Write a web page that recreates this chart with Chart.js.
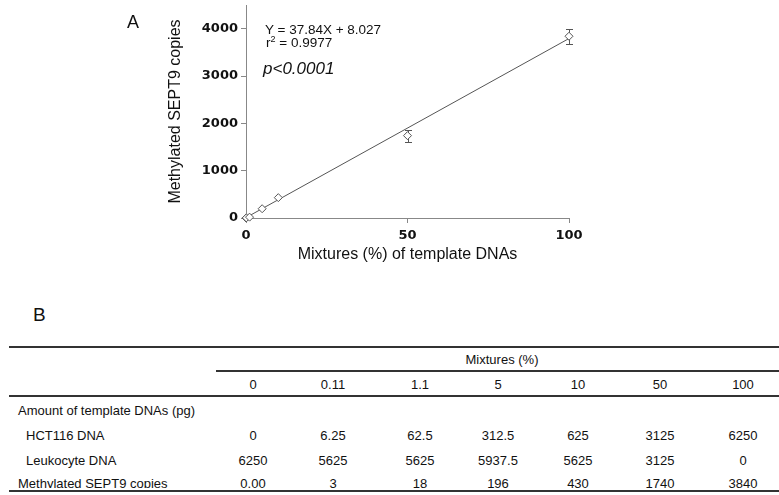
<!DOCTYPE html>
<html>
<head>
<meta charset="utf-8">
<script src="https://cdn.jsdelivr.net/npm/chart.js@4.4.0/dist/chart.umd.min.js"></script>
<style>
body { margin: 0; background: #fff; font-family: Arial, "Liberation Sans", sans-serif; color: #111; }
#wrap { position: relative; width: 779px; height: 495px; overflow: hidden; }
.t { position: absolute; white-space: nowrap; }
.cell { position: absolute; width: 80px; text-align: center; font-size: 13px; line-height: 13px; white-space: nowrap; }
.row { position: absolute; font-size: 13px; line-height: 13px; white-space: nowrap; }
.hl { position: absolute; background: #333; }
</style>
</head>
<body>
<div id="wrap">
  <canvas id="c" width="779" height="275" style="position:absolute;left:0;top:0"></canvas>

  <div class="t" style="left:127px;top:13px;font-size:18px;line-height:18px">A</div>
  <div class="t" style="left:265px;top:23px;font-size:13.5px;line-height:13.5px">Y = 37.84X + 8.027</div>
  <div class="t" style="left:266px;top:36px;font-size:13.5px;line-height:13.5px">r<sup style="font-size:9px;vertical-align:5px;line-height:0">2</sup> = 0.9977</div>
  <div class="t" style="left:263px;top:60px;font-size:17px;line-height:17px;font-style:italic">p&lt;0.0001</div>

  <div class="t" style="left:33px;top:305px;font-size:19px;line-height:19px">B</div>

  <div id="table"></div>
</div>

<script>
// panel A / table values
const mixtures = [0, 0.11, 1.1, 5, 10, 50, 100];
const mixtureLabels = ['0', '0.11', '1.1', '5', '10', '50', '100'];
const hctDNA = ['0', '6.25', '62.5', '312.5', '625', '3125', '6250'];
const leukoDNA = ['6250', '5625', '5625', '5937.5', '5625', '3125', '0'];
const copies = [0, 3, 18, 196, 430, 1740, 3840];
const copiesLabels = ['0.00', '3', '18', '196', '430', '1740', '3840'];
const copiesErr = [0, 0, 0, 0, 0, 125, 160];
const fitX = [0, 100];
const fitY = [8.027, 3792.0];
const xTicks = [0, 50, 100];
const yTicks = [0, 1000, 2000, 3000, 4000];

// table layout
const colX = [253, 333, 420, 498, 578, 660, 743];
const tbl = document.getElementById('table');
function add(html) { tbl.insertAdjacentHTML('beforeend', html); }

add('<div class="hl" style="left:9px;right:0;top:346px;height:2px"></div>');
add('<div class="hl" style="left:216px;right:0;top:370px;height:1.5px"></div>');
add('<div class="hl" style="left:9px;right:0;top:395px;height:2px"></div>');
add('<div class="hl" style="left:9px;right:0;top:490px;height:2px"></div>');

add('<div class="cell" style="left:' + (502 - 60) + 'px;width:120px;top:353px">Mixtures (%)</div>');
add('<div class="row" style="left:18px;top:404px">Amount of template DNAs (pg)</div>');
add('<div class="row" style="left:26px;top:429px">HCT116 DNA</div>');
add('<div class="row" style="left:26px;top:454px">Leukocyte DNA</div>');

mixtureLabels.forEach((v, i) => {
  add('<div class="cell" style="left:' + (colX[i] - 40) + 'px;top:378px">' + v + '</div>');
  add('<div class="cell" style="left:' + (colX[i] - 40) + 'px;top:429px">' + hctDNA[i] + '</div>');
  add('<div class="cell" style="left:' + (colX[i] - 40) + 'px;top:454px">' + leukoDNA[i] + '</div>');
});

// last row is cut off at the bottom in the source
let clip = '<div style="position:absolute;left:0;top:476px;width:779px;height:12px;overflow:hidden">';
clip += '<div class="row" style="left:18px;top:1px">Methylated SEPT9 copies</div>';
copiesLabels.forEach((v, i) => {
  clip += '<div class="cell" style="left:' + (colX[i] - 40) + 'px;top:1px">' + v + '</div>';
});
clip += '</div>';
add(clip);

// error bars behind the markers
const errorBars = {
  id: 'errorBars',
  beforeDatasetsDraw(chart) {
    const ctx = chart.ctx, x = chart.scales.x, y = chart.scales.y;
    ctx.save();
    ctx.strokeStyle = '#555';
    ctx.lineWidth = 1;
    mixtures.forEach((m, i) => {
      const e = copiesErr[i];
      if (!e) return;
      const px = Math.round(x.getPixelForValue(m)) + 0.5;
      const top = Math.round(y.getPixelForValue(copies[i] + e)) + 0.5;
      const bot = Math.round(y.getPixelForValue(copies[i] - e)) + 0.5;
      ctx.beginPath();
      ctx.moveTo(px, top); ctx.lineTo(px, bot);
      ctx.moveTo(px - 3.5, top); ctx.lineTo(px + 3.5, top);
      ctx.moveTo(px - 3.5, bot); ctx.lineTo(px + 3.5, bot);
      ctx.stroke();
    });
    ctx.restore();
  }
};

const tickFont = { family: 'DejaVu Sans', size: 13, weight: 'bold' };
const titleFont = { family: 'Arial', size: 16 };

new Chart(document.getElementById('c').getContext('2d'), {
  type: 'scatter',
  data: {
    datasets: [
      {
        data: mixtures.map((m, i) => ({ x: m, y: copies[i] })),
        pointStyle: 'rectRot',
        pointRadius: 4,
        pointBackgroundColor: '#fff',
        pointBorderColor: '#555',
        pointBorderWidth: 1,
        clip: false
      },
      {
        data: fitX.map((v, i) => ({ x: v, y: fitY[i] })),
        showLine: true,
        pointRadius: 0,
        borderColor: '#555',
        borderWidth: 1,
        clip: false
      }
    ]
  },
  options: {
    responsive: false,
    animation: false,
    devicePixelRatio: 1,
    layout: { padding: { left: 163, right: 210, top: 5, bottom: 0 } },
    plugins: { legend: { display: false }, tooltip: { enabled: false } },
    scales: {
      x: {
        type: 'linear', min: 0, max: 100,
        afterBuildTicks: s => { s.ticks = xTicks.map(v => ({ value: v })); },
        afterFit: s => { s.height = 57; s.paddingLeft = 0; s.paddingRight = 0; },
        border: { display: true, color: '#888', width: 1 },
        grid: { drawOnChartArea: false, drawTicks: true, tickLength: 5, color: '#888' },
        ticks: { color: '#111', font: tickFont, padding: 5, maxRotation: 0, callback: v => String(v) },
        title: { display: true, text: 'Mixtures (%) of template DNAs', color: '#111', font: titleFont, padding: { top: 0, bottom: 11 } }
      },
      y: {
        type: 'linear', min: 0, max: 4500,
        afterBuildTicks: s => { s.ticks = yTicks.map(v => ({ value: v })); },
        afterFit: s => { s.width = 83; s.paddingTop = 0; s.paddingBottom = 0; },
        border: { display: true, color: '#888', width: 1 },
        grid: { drawOnChartArea: false, drawTicks: true, tickLength: 5, color: '#888' },
        ticks: { color: '#111', font: tickFont, padding: 3, callback: v => String(v) },
        title: { display: true, text: 'Methylated SEPT9 copies', color: '#111', font: titleFont, padding: { top: 3, bottom: 0 } }
      }
    }
  },
  plugins: [errorBars]
});
</script>
</body>
</html>
